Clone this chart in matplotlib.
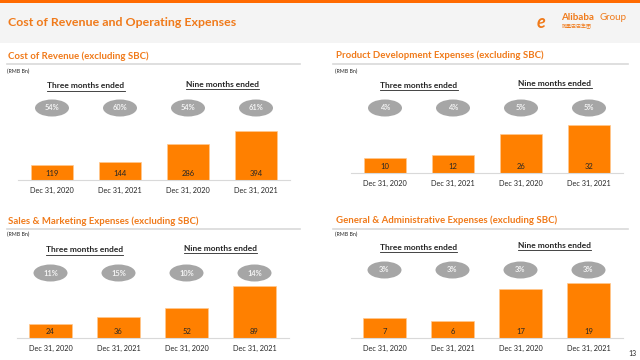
import matplotlib
matplotlib.use("Agg")
import matplotlib.pyplot as plt
from matplotlib.patches import Ellipse, Rectangle

plt.rcParams['font.family'] = ['Lato', 'Noto Sans CJK SC', 'DejaVu Sans']

# ---------------- data ----------------
categories = ["Dec 31, 2020", "Dec 31, 2021", "Dec 31, 2020", "Dec 31, 2021"]
period_labels = ["Three months ended", "Nine months ended"]

cor_values = [119, 144, 286, 394]
cor_pct = ["54%", "60%", "54%", "61%"]

pd_values = [10, 12, 26, 32]
pd_pct = ["4%", "4%", "5%", "5%"]

sm_values = [24, 36, 52, 89]
sm_pct = ["11%", "15%", "10%", "14%"]

ga_values = [7, 6, 17, 19]
ga_pct = ["3%", "3%", "3%", "3%"]

titles = ["Cost of Revenue (excluding SBC)",
          "Product Development Expenses (excluding SBC)",
          "Sales & Marketing Expenses (excluding SBC)",
          "General & Administrative Expenses (excluding SBC)"]

ORANGE = "#FF8000"
TITLE_OR = "#F07A1A"
GRAY_ELL = "#A6A6A6"
DARK = "#262626"

W, H = 640, 360
fig = plt.figure(figsize=(6.4, 3.6), dpi=100)
fig.patch.set_facecolor("white")

ov = fig.add_axes([0, 0, 1, 1])
ov.set_xlim(0, W)
ov.set_ylim(H, 0)
ov.axis("off")

# header band
ov.add_patch(Rectangle((0, 3), W, 40, facecolor="#F4F4F4", edgecolor="none"))
ov.add_patch(Rectangle((0, 0), W, 3.2, facecolor="#FF6A00", edgecolor="none"))
ov.text(8, 22, "Cost of Revenue and Operating Expenses", fontsize=8.9,
        fontweight="bold", color=TITLE_OR, va="center", ha="left")

# logo
ov.text(537, 22, "e", fontsize=13, fontstyle="italic", fontweight="bold",
        color="#F07A1A", va="center", ha="left")
ov.text(561, 17.5, "Alibaba", fontsize=7, fontweight="bold", color="#F07A1A",
        va="center", ha="left")
ov.text(599, 17.5, "Group", fontsize=7, color="#F07A1A", va="center", ha="left")
ov.text(562, 27, "阿里巴巴集团", fontsize=3.6, color="#F07A1A", va="center", ha="left")

ov.text(632, 353, "13", fontsize=5, color=DARK, va="center", ha="center")

panels = [
    dict(values=cor_values, pct=cor_pct, title=titles[0], left=18, right=290,
         base=180, ymax=482, tx=8, ty=56, ly=64, lx=(7, 300), ry=71, hy=86, ey=108),
    dict(values=pd_values, pct=pd_pct, title=titles[1], left=351, right=623,
         base=173, ymax=40, tx=336, ty=55, ly=64, lx=(333, 628), ry=71, hy=85, ey=108),
    dict(values=sm_values, pct=sm_pct, title=titles[2], left=16.5, right=288.5,
         base=338, ymax=102.7, tx=8, ty=221, ly=229, lx=(7, 300), ry=234.5, hy=250, ey=273),
    dict(values=ga_values, pct=ga_pct, title=titles[3], left=350.5, right=622.5,
         base=338, ymax=20.7, tx=336, ty=220, ly=229, lx=(333, 628), ry=234, hy=247, ey=270),
]

fig.canvas.draw()
renderer = fig.canvas.get_renderer()

for p in panels:
    ax_h = 60
    ax = fig.add_axes([p["left"] / W, 1 - p["base"] / H,
                       (p["right"] - p["left"]) / W, ax_h / H])
    ax.patch.set_alpha(0)
    x = list(range(len(categories)))
    ax.bar(x, p["values"], width=0.62, color=ORANGE, edgecolor="#FFC890",
           linewidth=0.5)
    ax.set_xlim(-0.5, len(categories) - 0.5)
    ax.set_ylim(0, p["ymax"])
    for s in ["top", "right", "left"]:
        ax.spines[s].set_visible(False)
    ax.spines["bottom"].set_color("#D9D9D9")
    ax.spines["bottom"].set_linewidth(0.8)
    ax.set_yticks([])
    ax.set_xticks(x)
    ax.set_xticklabels(categories, fontsize=5.3, color=DARK)
    ax.tick_params(axis="x", length=0, pad=5)
    for i, v in enumerate(p["values"]):
        ax.annotate(str(v), (i, 0), xytext=(0, 5), textcoords="offset points",
                    ha="center", va="center", fontsize=5.5, color=DARK)

    # decorations in pixel coordinates
    ov.text(p["tx"], p["ty"], p["title"], fontsize=6.9, fontweight="bold",
            color=TITLE_OR, va="center", ha="left")
    ov.plot(p["lx"], [p["ly"], p["ly"]], color="#D9D9D9", lw=1.2)
    ov.text(p["tx"] - 1, p["ry"], "(RMB Bn)", fontsize=3.8, color=DARK,
            va="center", ha="left")
    step = (p["right"] - p["left"]) / len(categories)
    centers = [p["left"] + (i + 0.5) * step for i in range(len(categories))]
    for k, lab in enumerate(period_labels):
        cx = (centers[2 * k] + centers[2 * k + 1]) / 2
        hy = p["hy"] - 1.5 * k
        t = ov.text(cx, hy, lab, fontsize=6.0, fontweight="bold", color=DARK,
                    va="center", ha="center")
        bb = t.get_window_extent(renderer=renderer)
        ov.plot([bb.x0, bb.x1], [hy + 4.8, hy + 4.8], color=DARK, lw=0.6)
    for cx, pc in zip(centers, p["pct"]):
        ov.add_patch(Ellipse((cx, p["ey"]), 34, 17, facecolor=GRAY_ELL,
                             edgecolor="none"))
        ov.text(cx, p["ey"], pc, fontsize=5.4, fontweight="bold", color="#F2F2F2",
                va="center", ha="center")

fig.savefig("out.png", dpi=100)
